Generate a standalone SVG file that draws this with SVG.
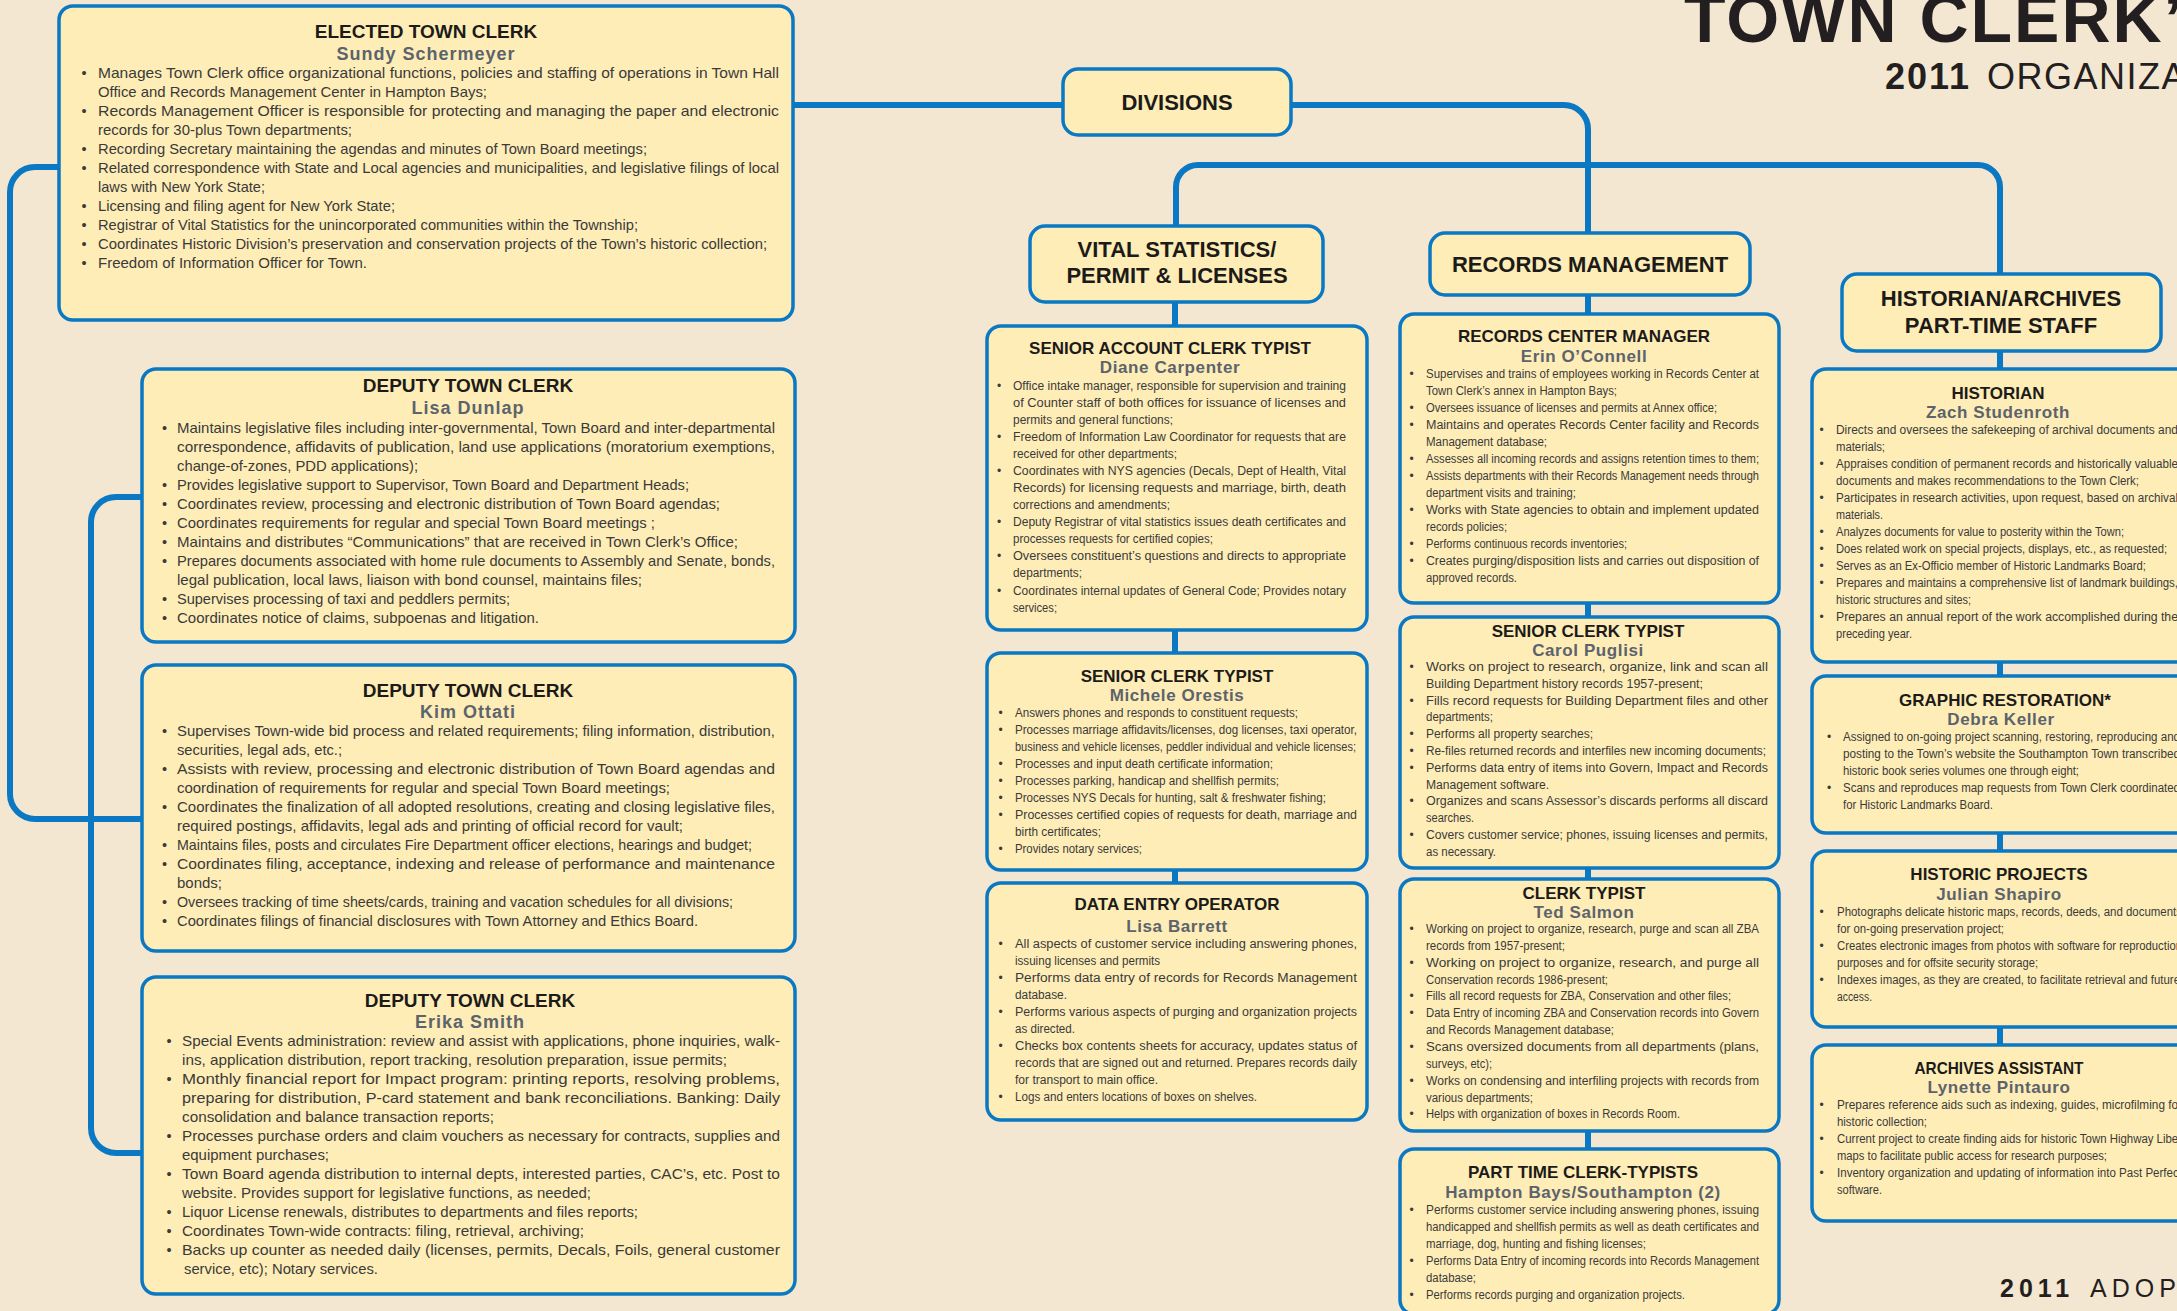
<svg xmlns="http://www.w3.org/2000/svg" width="2177" height="1311" viewBox="0 0 2177 1311">
<style>
.box{fill:#FEEDB7;stroke:#0A78C2;stroke-width:3.5}
.cn{fill:none;stroke:#0A78C2;stroke-width:6}
text{font-family:"Liberation Sans",Arial,sans-serif}
.t{font-weight:bold;fill:#1c1b19;text-anchor:middle}
.t1{font-size:19px}
.t2{font-size:17px}
.h{font-weight:bold;fill:#1c1b19;text-anchor:middle;font-size:22px}
.n{font-weight:bold;fill:#5c636c;text-anchor:middle}
.n1{font-size:18px;letter-spacing:1px}
.n2{font-size:17px;letter-spacing:0.6px}
.b{fill:#3a3a3a}
.b1{font-size:14.5px}
.b2{font-size:12px}
</style>
<rect x="0" y="0" width="2177" height="1311" fill="#F3E7D2"/>

<g id="titles">
<text x="1684" y="42" font-size="68" font-weight="bold" letter-spacing="2" fill="#231f20">TOWN CLERK’S</text>
<text y="89" font-size="36" fill="#231f20"><tspan x="1885" font-weight="bold" letter-spacing="2">2011</tspan><tspan x="1987" letter-spacing="1.5">ORGANIZATIONAL CHART</tspan></text>
<text y="1297" font-size="25" fill="#231f20" letter-spacing="5"><tspan x="2000" font-weight="bold">2011</tspan><tspan x="2090">ADOPTED</tspan></text>
</g>

<g id="connectors">
<path class="cn" d="M793 105 H1063"/>
<path class="cn" d="M1291 105 H1564 A24 24 0 0 1 1588 129 V233"/>
<path class="cn" d="M1176 226 V187 A22 22 0 0 1 1198 165 H1978 A22 22 0 0 1 2000 187 V274"/>
<path class="cn" d="M59 167 H35 A25 25 0 0 0 10 192 V794 A25 25 0 0 0 35 819 H142"/>
<path class="cn" d="M142 497 H116 A25 25 0 0 0 91 522 V1128 A25 25 0 0 0 116 1153 H142"/>
<path class="cn" d="M1175 302 V326 M1175 630 V653 M1175 870 V883"/>
<path class="cn" d="M1588 295 V314 M1588 603 V617 M1588 868 V879 M1588 1131 V1149"/>
<path class="cn" d="M2000 351 V369 M2000 662 V676 M2000 833 V851 M2000 1027 V1045"/>
</g>

<g id="n-elected">
<rect class="box" x="59" y="6" width="734" height="314" rx="14"/>
<text class="t t1" x="426" y="38">ELECTED TOWN CLERK</text>
<text class="n n1" x="426" y="60">Sundy Schermeyer</text>
<text class="b b1" x="81.5" y="78">•</text><text class="b b1" x="98" y="78" textLength="681" lengthAdjust="spacingAndGlyphs">Manages Town Clerk office organizational functions, policies and staffing of operations in Town Hall</text>
<text class="b b1" x="98" y="97" textLength="389" lengthAdjust="spacingAndGlyphs">Office and Records Management Center in Hampton Bays;</text>
<text class="b b1" x="81.5" y="116">•</text><text class="b b1" x="98" y="116" textLength="681" lengthAdjust="spacingAndGlyphs">Records Management Officer is responsible for protecting and managing the paper and electronic</text>
<text class="b b1" x="98" y="135" textLength="254" lengthAdjust="spacingAndGlyphs">records for 30-plus Town departments;</text>
<text class="b b1" x="81.5" y="154">•</text><text class="b b1" x="98" y="154" textLength="549" lengthAdjust="spacingAndGlyphs">Recording Secretary maintaining the agendas and minutes of Town Board meetings;</text>
<text class="b b1" x="81.5" y="173">•</text><text class="b b1" x="98" y="173" textLength="681" lengthAdjust="spacingAndGlyphs">Related correspondence with State and Local agencies and municipalities, and legislative filings of local</text>
<text class="b b1" x="98" y="192" textLength="167" lengthAdjust="spacingAndGlyphs">laws with New York State;</text>
<text class="b b1" x="81.5" y="211">•</text><text class="b b1" x="98" y="211" textLength="297" lengthAdjust="spacingAndGlyphs">Licensing and filing agent for New York State;</text>
<text class="b b1" x="81.5" y="230">•</text><text class="b b1" x="98" y="230" textLength="540" lengthAdjust="spacingAndGlyphs">Registrar of Vital Statistics for the unincorporated communities within the Township;</text>
<text class="b b1" x="81.5" y="249">•</text><text class="b b1" x="98" y="249" textLength="669" lengthAdjust="spacingAndGlyphs">Coordinates Historic Division’s preservation and conservation projects of the Town’s historic collection;</text>
<text class="b b1" x="81.5" y="268">•</text><text class="b b1" x="98" y="268" textLength="269" lengthAdjust="spacingAndGlyphs">Freedom of Information Officer for Town.</text>
</g>

<g id="n-deputy-dunlap">
<rect class="box" x="142" y="369" width="653" height="273" rx="14"/>
<text class="t t1" x="468" y="392">DEPUTY TOWN CLERK</text>
<text class="n n1" x="468" y="414">Lisa Dunlap</text>
<text class="b b1" x="162" y="433">•</text><text class="b b1" x="177" y="433" textLength="598" lengthAdjust="spacingAndGlyphs">Maintains legislative files including inter-governmental, Town Board and inter-departmental</text>
<text class="b b1" x="177" y="452" textLength="598" lengthAdjust="spacingAndGlyphs">correspondence, affidavits of publication, land use applications (moratorium exemptions,</text>
<text class="b b1" x="177" y="471" textLength="241" lengthAdjust="spacingAndGlyphs">change-of-zones, PDD applications);</text>
<text class="b b1" x="162" y="490">•</text><text class="b b1" x="177" y="490" textLength="512" lengthAdjust="spacingAndGlyphs">Provides legislative support to Supervisor, Town Board and Department Heads;</text>
<text class="b b1" x="162" y="509">•</text><text class="b b1" x="177" y="509" textLength="543" lengthAdjust="spacingAndGlyphs">Coordinates review, processing and electronic distribution of Town Board agendas;</text>
<text class="b b1" x="162" y="528">•</text><text class="b b1" x="177" y="528" textLength="478" lengthAdjust="spacingAndGlyphs">Coordinates requirements for regular and special Town Board meetings ;</text>
<text class="b b1" x="162" y="547">•</text><text class="b b1" x="177" y="547" textLength="561" lengthAdjust="spacingAndGlyphs">Maintains and distributes “Communications” that are received in Town Clerk’s Office;</text>
<text class="b b1" x="162" y="566">•</text><text class="b b1" x="177" y="566" textLength="598" lengthAdjust="spacingAndGlyphs">Prepares documents associated with home rule documents to Assembly and Senate, bonds,</text>
<text class="b b1" x="177" y="585" textLength="465" lengthAdjust="spacingAndGlyphs">legal publication, local laws, liaison with bond counsel, maintains files;</text>
<text class="b b1" x="162" y="604">•</text><text class="b b1" x="177" y="604" textLength="333" lengthAdjust="spacingAndGlyphs">Supervises processing of taxi and peddlers permits;</text>
<text class="b b1" x="162" y="623">•</text><text class="b b1" x="177" y="623" textLength="362" lengthAdjust="spacingAndGlyphs">Coordinates notice of claims, subpoenas and litigation.</text>
</g>

<g id="n-deputy-ottati">
<rect class="box" x="142" y="665" width="653" height="286" rx="14"/>
<text class="t t1" x="468" y="697">DEPUTY TOWN CLERK</text>
<text class="n n1" x="468" y="718">Kim Ottati</text>
<text class="b b1" x="162" y="736">•</text><text class="b b1" x="177" y="736" textLength="598" lengthAdjust="spacingAndGlyphs">Supervises Town-wide bid process and related requirements; filing information, distribution,</text>
<text class="b b1" x="177" y="755" textLength="165" lengthAdjust="spacingAndGlyphs">securities, legal ads, etc.;</text>
<text class="b b1" x="162" y="774">•</text><text class="b b1" x="177" y="774" textLength="598" lengthAdjust="spacingAndGlyphs">Assists with review, processing and electronic distribution of Town Board agendas and</text>
<text class="b b1" x="177" y="793" textLength="493" lengthAdjust="spacingAndGlyphs">coordination of requirements for regular and special Town Board meetings;</text>
<text class="b b1" x="162" y="812">•</text><text class="b b1" x="177" y="812" textLength="598" lengthAdjust="spacingAndGlyphs">Coordinates the finalization of all adopted resolutions, creating and closing legislative files,</text>
<text class="b b1" x="177" y="831" textLength="506" lengthAdjust="spacingAndGlyphs">required postings, affidavits, legal ads and printing of official record for vault;</text>
<text class="b b1" x="162" y="850">•</text><text class="b b1" x="177" y="850" textLength="575" lengthAdjust="spacingAndGlyphs">Maintains files, posts and circulates Fire Department officer elections, hearings and budget;</text>
<text class="b b1" x="162" y="869">•</text><text class="b b1" x="177" y="869" textLength="598" lengthAdjust="spacingAndGlyphs">Coordinates filing, acceptance, indexing and release of performance and maintenance</text>
<text class="b b1" x="177" y="888" textLength="45" lengthAdjust="spacingAndGlyphs">bonds;</text>
<text class="b b1" x="162" y="907">•</text><text class="b b1" x="177" y="907" textLength="556" lengthAdjust="spacingAndGlyphs">Oversees tracking of time sheets/cards, training and vacation schedules for all divisions;</text>
<text class="b b1" x="162" y="926">•</text><text class="b b1" x="177" y="926" textLength="521" lengthAdjust="spacingAndGlyphs">Coordinates filings of financial disclosures with Town Attorney and Ethics Board.</text>
</g>

<g id="n-deputy-smith">
<rect class="box" x="142" y="977" width="653" height="317" rx="14"/>
<text class="t t1" x="470" y="1007">DEPUTY TOWN CLERK</text>
<text class="n n1" x="470" y="1028">Erika Smith</text>
<text class="b b1" x="166.5" y="1046">•</text><text class="b b1" x="182" y="1046" textLength="598" lengthAdjust="spacingAndGlyphs">Special Events administration: review and assist with applications, phone inquiries, walk-</text>
<text class="b b1" x="182" y="1065" textLength="545" lengthAdjust="spacingAndGlyphs">ins, application distribution, report tracking, resolution preparation, issue permits;</text>
<text class="b b1" x="166.5" y="1084">•</text><text class="b b1" x="182" y="1084" textLength="598" lengthAdjust="spacingAndGlyphs">Monthly financial report for Impact program: printing reports, resolving problems,</text>
<text class="b b1" x="182" y="1103" textLength="598" lengthAdjust="spacingAndGlyphs">preparing for distribution, P-card statement and bank reconciliations. Banking: Daily</text>
<text class="b b1" x="182" y="1122" textLength="312" lengthAdjust="spacingAndGlyphs">consolidation and balance transaction reports;</text>
<text class="b b1" x="166.5" y="1141">•</text><text class="b b1" x="182" y="1141" textLength="598" lengthAdjust="spacingAndGlyphs">Processes purchase orders and claim vouchers as necessary for contracts, supplies and</text>
<text class="b b1" x="182" y="1160" textLength="147" lengthAdjust="spacingAndGlyphs">equipment purchases;</text>
<text class="b b1" x="166.5" y="1179">•</text><text class="b b1" x="182" y="1179" textLength="598" lengthAdjust="spacingAndGlyphs">Town Board agenda distribution to internal depts, interested parties, CAC’s, etc. Post to</text>
<text class="b b1" x="182" y="1198" textLength="409" lengthAdjust="spacingAndGlyphs">website. Provides support for legislative functions, as needed;</text>
<text class="b b1" x="166.5" y="1217">•</text><text class="b b1" x="182" y="1217" textLength="456" lengthAdjust="spacingAndGlyphs">Liquor License renewals, distributes to departments and files reports;</text>
<text class="b b1" x="166.5" y="1236">•</text><text class="b b1" x="182" y="1236" textLength="402" lengthAdjust="spacingAndGlyphs">Coordinates Town-wide contracts: filing, retrieval, archiving;</text>
<text class="b b1" x="166.5" y="1255">•</text><text class="b b1" x="182" y="1255" textLength="598" lengthAdjust="spacingAndGlyphs">Backs up counter as needed daily (licenses, permits, Decals, Foils, general customer</text>
<text class="b b1" x="184" y="1274" textLength="194" lengthAdjust="spacingAndGlyphs">service, etc); Notary services.</text>
</g>

<g id="n-divisions">
<rect class="box" x="1063" y="69" width="228" height="66" rx="15"/>
<text class="h" x="1177" y="110" font-size="23">DIVISIONS</text>
</g>

<g id="n-vital">
<rect class="box" x="1030" y="226" width="293" height="76" rx="15"/>
<text class="h" x="1177" y="257">VITAL STATISTICS/</text>
<text class="h" x="1177" y="283">PERMIT &amp; LICENSES</text>
</g>

<g id="n-records">
<rect class="box" x="1430" y="233" width="320" height="62" rx="15"/>
<text class="h" x="1590" y="272">RECORDS MANAGEMENT</text>
</g>

<g id="n-historian-archives">
<rect class="box" x="1842" y="274" width="319" height="77" rx="15"/>
<text class="h" x="2001" y="306" font-size="21.5">HISTORIAN/ARCHIVES</text>
<text class="h" x="2001" y="333" font-size="21.5">PART-TIME STAFF</text>
</g>

<g id="n-senior-account-clerk">
<rect class="box" x="987" y="326" width="380" height="304" rx="14"/>
<text class="t t2" x="1170" y="354">SENIOR ACCOUNT CLERK TYPIST</text>
<text class="n n2" x="1170" y="373">Diane Carpenter</text>
<text class="b b2" x="997" y="389.5">•</text><text class="b b2" x="1013" y="389.5" textLength="333" lengthAdjust="spacingAndGlyphs">Office intake manager, responsible for supervision and training</text>
<text class="b b2" x="1013" y="406.6" textLength="333" lengthAdjust="spacingAndGlyphs">of Counter staff of both offices for issuance of licenses and</text>
<text class="b b2" x="1013" y="423.7" textLength="160" lengthAdjust="spacingAndGlyphs">permits and general functions;</text>
<text class="b b2" x="997" y="440.7">•</text><text class="b b2" x="1013" y="440.7" textLength="333" lengthAdjust="spacingAndGlyphs">Freedom of Information Law Coordinator for requests that are</text>
<text class="b b2" x="1013" y="457.8" textLength="164" lengthAdjust="spacingAndGlyphs">received for other departments;</text>
<text class="b b2" x="997" y="474.9">•</text><text class="b b2" x="1013" y="474.9" textLength="333" lengthAdjust="spacingAndGlyphs">Coordinates with NYS agencies (Decals, Dept of Health, Vital</text>
<text class="b b2" x="1013" y="492" textLength="333" lengthAdjust="spacingAndGlyphs">Records) for licensing requests and marriage, birth, death</text>
<text class="b b2" x="1013" y="509" textLength="157" lengthAdjust="spacingAndGlyphs">corrections and amendments;</text>
<text class="b b2" x="997" y="526.1">•</text><text class="b b2" x="1013" y="526.1" textLength="333" lengthAdjust="spacingAndGlyphs">Deputy Registrar of vital statistics issues death certificates and</text>
<text class="b b2" x="1013" y="543.2" textLength="200" lengthAdjust="spacingAndGlyphs">processes requests for certified copies;</text>
<text class="b b2" x="997" y="560.3">•</text><text class="b b2" x="1013" y="560.3" textLength="333" lengthAdjust="spacingAndGlyphs">Oversees constituent’s questions and directs to appropriate</text>
<text class="b b2" x="1013" y="577.4" textLength="69" lengthAdjust="spacingAndGlyphs">departments;</text>
<text class="b b2" x="997" y="594.5">•</text><text class="b b2" x="1013" y="594.5" textLength="333" lengthAdjust="spacingAndGlyphs">Coordinates internal updates of General Code; Provides notary</text>
<text class="b b2" x="1013" y="611.5" textLength="44" lengthAdjust="spacingAndGlyphs">services;</text>
</g>

<g id="n-senior-clerk-orestis">
<rect class="box" x="987" y="653" width="380" height="217" rx="14"/>
<text class="t t2" x="1177" y="682">SENIOR CLERK TYPIST</text>
<text class="n n2" x="1177" y="701">Michele Orestis</text>
<text class="b b2" x="998.5" y="716.7">•</text><text class="b b2" x="1015" y="716.7" textLength="283" lengthAdjust="spacingAndGlyphs">Answers phones and responds to constituent requests;</text>
<text class="b b2" x="998.5" y="733.7">•</text><text class="b b2" x="1015" y="733.7" textLength="342" lengthAdjust="spacingAndGlyphs">Processes marriage affidavits/licenses, dog licenses, taxi operator,</text>
<text class="b b2" x="1015" y="750.7" textLength="341" lengthAdjust="spacingAndGlyphs">business and vehicle licenses, peddler individual and vehicle licenses;</text>
<text class="b b2" x="998.5" y="767.7">•</text><text class="b b2" x="1015" y="767.7" textLength="258" lengthAdjust="spacingAndGlyphs">Processes and input death certificate information;</text>
<text class="b b2" x="998.5" y="784.7">•</text><text class="b b2" x="1015" y="784.7" textLength="264" lengthAdjust="spacingAndGlyphs">Processes parking, handicap and shellfish permits;</text>
<text class="b b2" x="998.5" y="801.7">•</text><text class="b b2" x="1015" y="801.7" textLength="311" lengthAdjust="spacingAndGlyphs">Processes NYS Decals for hunting, salt &amp; freshwater fishing;</text>
<text class="b b2" x="998.5" y="818.7">•</text><text class="b b2" x="1015" y="818.7" textLength="342" lengthAdjust="spacingAndGlyphs">Processes certified copies of requests for death, marriage and</text>
<text class="b b2" x="1015" y="835.7" textLength="86" lengthAdjust="spacingAndGlyphs">birth certificates;</text>
<text class="b b2" x="998.5" y="852.7">•</text><text class="b b2" x="1015" y="852.7" textLength="127" lengthAdjust="spacingAndGlyphs">Provides notary services;</text>
</g>

<g id="n-data-entry">
<rect class="box" x="987" y="883" width="380" height="237" rx="14"/>
<text class="t t2" x="1177" y="910">DATA ENTRY OPERATOR</text>
<text class="n n2" x="1177" y="932">Lisa Barrett</text>
<text class="b b2" x="998.5" y="947.7">•</text><text class="b b2" x="1015" y="947.7" textLength="342" lengthAdjust="spacingAndGlyphs">All aspects of customer service including answering phones,</text>
<text class="b b2" x="1015" y="964.7" textLength="145" lengthAdjust="spacingAndGlyphs">issuing licenses and permits</text>
<text class="b b2" x="998.5" y="981.7">•</text><text class="b b2" x="1015" y="981.7" textLength="342" lengthAdjust="spacingAndGlyphs">Performs data entry of records for Records Management</text>
<text class="b b2" x="1015" y="998.7" textLength="52" lengthAdjust="spacingAndGlyphs">database.</text>
<text class="b b2" x="998.5" y="1015.7">•</text><text class="b b2" x="1015" y="1015.7" textLength="342" lengthAdjust="spacingAndGlyphs">Performs various aspects of purging and organization projects</text>
<text class="b b2" x="1015" y="1032.7" textLength="60" lengthAdjust="spacingAndGlyphs">as directed.</text>
<text class="b b2" x="998.5" y="1049.7">•</text><text class="b b2" x="1015" y="1049.7" textLength="342" lengthAdjust="spacingAndGlyphs">Checks box contents sheets for accuracy, updates status of</text>
<text class="b b2" x="1015" y="1066.7" textLength="342" lengthAdjust="spacingAndGlyphs">records that are signed out and returned. Prepares records daily</text>
<text class="b b2" x="1015" y="1083.7" textLength="143" lengthAdjust="spacingAndGlyphs">for transport to main office.</text>
<text class="b b2" x="998.5" y="1100.7">•</text><text class="b b2" x="1015" y="1100.7" textLength="242" lengthAdjust="spacingAndGlyphs">Logs and enters locations of boxes on shelves.</text>
</g>

<g id="n-records-center-manager">
<rect class="box" x="1400" y="314" width="379" height="289" rx="14"/>
<text class="t t2" x="1584" y="342">RECORDS CENTER MANAGER</text>
<text class="n n2" x="1584" y="362">Erin O’Connell</text>
<text class="b b2" x="1409.5" y="377.7">•</text><text class="b b2" x="1426" y="377.7" textLength="333" lengthAdjust="spacingAndGlyphs">Supervises and trains of employees working in Records Center at</text>
<text class="b b2" x="1426" y="394.7" textLength="191" lengthAdjust="spacingAndGlyphs">Town Clerk’s annex in Hampton Bays;</text>
<text class="b b2" x="1409.5" y="411.7">•</text><text class="b b2" x="1426" y="411.7" textLength="291" lengthAdjust="spacingAndGlyphs">Oversees issuance of licenses and permits at Annex office;</text>
<text class="b b2" x="1409.5" y="428.7">•</text><text class="b b2" x="1426" y="428.7" textLength="333" lengthAdjust="spacingAndGlyphs">Maintains and operates Records Center facility and Records</text>
<text class="b b2" x="1426" y="445.7" textLength="121" lengthAdjust="spacingAndGlyphs">Management database;</text>
<text class="b b2" x="1409.5" y="462.7">•</text><text class="b b2" x="1426" y="462.7" textLength="333" lengthAdjust="spacingAndGlyphs">Assesses all incoming records and assigns retention times to them;</text>
<text class="b b2" x="1409.5" y="479.7">•</text><text class="b b2" x="1426" y="479.7" textLength="333" lengthAdjust="spacingAndGlyphs">Assists departments with their Records Management needs through</text>
<text class="b b2" x="1426" y="496.7" textLength="150" lengthAdjust="spacingAndGlyphs">department visits and training;</text>
<text class="b b2" x="1409.5" y="513.7">•</text><text class="b b2" x="1426" y="513.7" textLength="333" lengthAdjust="spacingAndGlyphs">Works with State agencies to obtain and implement updated</text>
<text class="b b2" x="1426" y="530.7" textLength="81" lengthAdjust="spacingAndGlyphs">records policies;</text>
<text class="b b2" x="1409.5" y="547.7">•</text><text class="b b2" x="1426" y="547.7" textLength="201" lengthAdjust="spacingAndGlyphs">Performs continuous records inventories;</text>
<text class="b b2" x="1409.5" y="564.7">•</text><text class="b b2" x="1426" y="564.7" textLength="333" lengthAdjust="spacingAndGlyphs">Creates purging/disposition lists and carries out disposition of</text>
<text class="b b2" x="1426" y="581.7" textLength="91" lengthAdjust="spacingAndGlyphs">approved records.</text>
</g>

<g id="n-senior-clerk-puglisi">
<rect class="box" x="1400" y="617" width="379" height="251" rx="14"/>
<text class="t t2" x="1588" y="637">SENIOR CLERK TYPIST</text>
<text class="n n2" x="1588" y="656">Carol Puglisi</text>
<text class="b b2" x="1409.5" y="671">•</text><text class="b b2" x="1426" y="671" textLength="342" lengthAdjust="spacingAndGlyphs">Works on project to research, organize, link and scan all</text>
<text class="b b2" x="1426" y="687.8" textLength="277" lengthAdjust="spacingAndGlyphs">Building Department history records 1957-present;</text>
<text class="b b2" x="1409.5" y="704.6">•</text><text class="b b2" x="1426" y="704.6" textLength="342" lengthAdjust="spacingAndGlyphs">Fills record requests for Building Department files and other</text>
<text class="b b2" x="1426" y="721.4" textLength="67" lengthAdjust="spacingAndGlyphs">departments;</text>
<text class="b b2" x="1409.5" y="738.2">•</text><text class="b b2" x="1426" y="738.2" textLength="167" lengthAdjust="spacingAndGlyphs">Performs all property searches;</text>
<text class="b b2" x="1409.5" y="755">•</text><text class="b b2" x="1426" y="755" textLength="340" lengthAdjust="spacingAndGlyphs">Re-files returned records and interfiles new incoming documents;</text>
<text class="b b2" x="1409.5" y="771.8">•</text><text class="b b2" x="1426" y="771.8" textLength="342" lengthAdjust="spacingAndGlyphs">Performs data entry of items into Govern, Impact and Records</text>
<text class="b b2" x="1426" y="788.6" textLength="123" lengthAdjust="spacingAndGlyphs">Management software.</text>
<text class="b b2" x="1409.5" y="805.4">•</text><text class="b b2" x="1426" y="805.4" textLength="342" lengthAdjust="spacingAndGlyphs">Organizes and scans Assessor’s discards performs all discard</text>
<text class="b b2" x="1426" y="822.2" textLength="48" lengthAdjust="spacingAndGlyphs">searches.</text>
<text class="b b2" x="1409.5" y="839">•</text><text class="b b2" x="1426" y="839" textLength="342" lengthAdjust="spacingAndGlyphs">Covers customer service; phones, issuing licenses and permits,</text>
<text class="b b2" x="1426" y="855.8" textLength="70" lengthAdjust="spacingAndGlyphs">as necessary.</text>
</g>

<g id="n-clerk-typist">
<rect class="box" x="1400" y="879" width="379" height="252" rx="14"/>
<text class="t t2" x="1584" y="899">CLERK TYPIST</text>
<text class="n n2" x="1584" y="918">Ted Salmon</text>
<text class="b b2" x="1409.5" y="933">•</text><text class="b b2" x="1426" y="933" textLength="333" lengthAdjust="spacingAndGlyphs">Working on project to organize, research, purge and scan all ZBA</text>
<text class="b b2" x="1426" y="949.9" textLength="139" lengthAdjust="spacingAndGlyphs">records from 1957-present;</text>
<text class="b b2" x="1409.5" y="966.7">•</text><text class="b b2" x="1426" y="966.7" textLength="333" lengthAdjust="spacingAndGlyphs">Working on project to organize, research, and purge all</text>
<text class="b b2" x="1426" y="983.6" textLength="182" lengthAdjust="spacingAndGlyphs">Conservation records 1986-present;</text>
<text class="b b2" x="1409.5" y="1000.4">•</text><text class="b b2" x="1426" y="1000.4" textLength="305" lengthAdjust="spacingAndGlyphs">Fills all record requests for ZBA, Conservation and other files;</text>
<text class="b b2" x="1409.5" y="1017.3">•</text><text class="b b2" x="1426" y="1017.3" textLength="333" lengthAdjust="spacingAndGlyphs">Data Entry of incoming ZBA and Conservation records into Govern</text>
<text class="b b2" x="1426" y="1034.1" textLength="188" lengthAdjust="spacingAndGlyphs">and Records Management database;</text>
<text class="b b2" x="1409.5" y="1051">•</text><text class="b b2" x="1426" y="1051" textLength="333" lengthAdjust="spacingAndGlyphs">Scans oversized documents from all departments (plans,</text>
<text class="b b2" x="1426" y="1067.8" textLength="66" lengthAdjust="spacingAndGlyphs">surveys, etc);</text>
<text class="b b2" x="1409.5" y="1084.7">•</text><text class="b b2" x="1426" y="1084.7" textLength="333" lengthAdjust="spacingAndGlyphs">Works on condensing and interfiling projects with records from</text>
<text class="b b2" x="1426" y="1101.5" textLength="107" lengthAdjust="spacingAndGlyphs">various departments;</text>
<text class="b b2" x="1409.5" y="1118.4">•</text><text class="b b2" x="1426" y="1118.4" textLength="254" lengthAdjust="spacingAndGlyphs">Helps with organization of boxes in Records Room.</text>
</g>

<g id="n-part-time">
<rect class="box" x="1400" y="1149" width="379" height="165" rx="14"/>
<text class="t t2" x="1583" y="1178">PART TIME CLERK-TYPISTS</text>
<text class="n n2" x="1583" y="1198" letter-spacing="1.4">Hampton Bays/Southampton (2)</text>
<text class="b b2" x="1409.5" y="1214">•</text><text class="b b2" x="1426" y="1214" textLength="333" lengthAdjust="spacingAndGlyphs">Performs customer service including answering phones, issuing</text>
<text class="b b2" x="1426" y="1230.9" textLength="333" lengthAdjust="spacingAndGlyphs">handicapped and shellfish permits as well as death certificates and</text>
<text class="b b2" x="1426" y="1247.8" textLength="220" lengthAdjust="spacingAndGlyphs">marriage, dog, hunting and fishing licenses;</text>
<text class="b b2" x="1409.5" y="1264.7">•</text><text class="b b2" x="1426" y="1264.7" textLength="333" lengthAdjust="spacingAndGlyphs">Performs Data Entry of incoming records into Records Management</text>
<text class="b b2" x="1426" y="1281.6" textLength="50" lengthAdjust="spacingAndGlyphs">database;</text>
<text class="b b2" x="1409.5" y="1298.5">•</text><text class="b b2" x="1426" y="1298.5" textLength="259" lengthAdjust="spacingAndGlyphs">Performs records purging and organization projects.</text>
</g>

<g id="n-historian">
<rect class="box" x="1812" y="369" width="380" height="293" rx="14"/>
<text class="t t2" x="1998" y="399">HISTORIAN</text>
<text class="n n2" x="1998" y="418">Zach Studenroth</text>
<text class="b b2" x="1819.5" y="434">•</text><text class="b b2" x="1836" y="434" textLength="342" lengthAdjust="spacingAndGlyphs">Directs and oversees the safekeeping of archival documents and</text>
<text class="b b2" x="1836" y="451" textLength="49" lengthAdjust="spacingAndGlyphs">materials;</text>
<text class="b b2" x="1819.5" y="468">•</text><text class="b b2" x="1836" y="468" textLength="342" lengthAdjust="spacingAndGlyphs">Appraises condition of permanent records and historically valuable</text>
<text class="b b2" x="1836" y="485" textLength="303" lengthAdjust="spacingAndGlyphs">documents and makes recommendations to the Town Clerk;</text>
<text class="b b2" x="1819.5" y="502">•</text><text class="b b2" x="1836" y="502" textLength="342" lengthAdjust="spacingAndGlyphs">Participates in research activities, upon request, based on archival</text>
<text class="b b2" x="1836" y="519" textLength="47" lengthAdjust="spacingAndGlyphs">materials.</text>
<text class="b b2" x="1819.5" y="536">•</text><text class="b b2" x="1836" y="536" textLength="288" lengthAdjust="spacingAndGlyphs">Analyzes documents for value to posterity within the Town;</text>
<text class="b b2" x="1819.5" y="553">•</text><text class="b b2" x="1836" y="553" textLength="331" lengthAdjust="spacingAndGlyphs">Does related work on special projects, displays, etc., as requested;</text>
<text class="b b2" x="1819.5" y="570">•</text><text class="b b2" x="1836" y="570" textLength="310" lengthAdjust="spacingAndGlyphs">Serves as an Ex-Officio member of Historic Landmarks Board;</text>
<text class="b b2" x="1819.5" y="587">•</text><text class="b b2" x="1836" y="587" textLength="342" lengthAdjust="spacingAndGlyphs">Prepares and maintains a comprehensive list of landmark buildings,</text>
<text class="b b2" x="1836" y="604" textLength="135" lengthAdjust="spacingAndGlyphs">historic structures and sites;</text>
<text class="b b2" x="1819.5" y="621">•</text><text class="b b2" x="1836" y="621" textLength="342" lengthAdjust="spacingAndGlyphs">Prepares an annual report of the work accomplished during the</text>
<text class="b b2" x="1836" y="638" textLength="76" lengthAdjust="spacingAndGlyphs">preceding year.</text>
</g>

<g id="n-graphic-restoration">
<rect class="box" x="1812" y="676" width="380" height="157" rx="14"/>
<text class="t t2" x="2005" y="706">GRAPHIC RESTORATION*</text>
<text class="n n2" x="2001" y="725">Debra Keller</text>
<text class="b b2" x="1827" y="741">•</text><text class="b b2" x="1843" y="741" textLength="337" lengthAdjust="spacingAndGlyphs">Assigned to on-going project scanning, restoring, reproducing and</text>
<text class="b b2" x="1843" y="757.9" textLength="337" lengthAdjust="spacingAndGlyphs">posting to the Town’s website the Southampton Town transcribed</text>
<text class="b b2" x="1843" y="774.8" textLength="236" lengthAdjust="spacingAndGlyphs">historic book series volumes one through eight;</text>
<text class="b b2" x="1827" y="791.7">•</text><text class="b b2" x="1843" y="791.7" textLength="337" lengthAdjust="spacingAndGlyphs">Scans and reproduces map requests from Town Clerk coordinated</text>
<text class="b b2" x="1843" y="808.6" textLength="150" lengthAdjust="spacingAndGlyphs">for Historic Landmarks Board.</text>
</g>

<g id="n-historic-projects">
<rect class="box" x="1812" y="851" width="380" height="176" rx="14"/>
<text class="t t2" x="1999" y="880">HISTORIC PROJECTS</text>
<text class="n n2" x="1999" y="900">Julian Shapiro</text>
<text class="b b2" x="1819.5" y="915.7">•</text><text class="b b2" x="1837" y="915.7" textLength="345" lengthAdjust="spacingAndGlyphs">Photographs delicate historic maps, records, deeds, and documents</text>
<text class="b b2" x="1837" y="932.7" textLength="167" lengthAdjust="spacingAndGlyphs">for on-going preservation project;</text>
<text class="b b2" x="1819.5" y="949.7">•</text><text class="b b2" x="1837" y="949.7" textLength="345" lengthAdjust="spacingAndGlyphs">Creates electronic images from photos with software for reproduction</text>
<text class="b b2" x="1837" y="966.7" textLength="201" lengthAdjust="spacingAndGlyphs">purposes and for offsite security storage;</text>
<text class="b b2" x="1819.5" y="983.7">•</text><text class="b b2" x="1837" y="983.7" textLength="343" lengthAdjust="spacingAndGlyphs">Indexes images, as they are created, to facilitate retrieval and future</text>
<text class="b b2" x="1837" y="1000.7" textLength="35" lengthAdjust="spacingAndGlyphs">access.</text>
</g>

<g id="n-archives-assistant">
<rect class="box" x="1812" y="1045" width="380" height="176" rx="14"/>
<text class="t t2" x="1999" y="1074" textLength="169" lengthAdjust="spacingAndGlyphs">ARCHIVES ASSISTANT</text>
<text class="n n2" x="1999" y="1093">Lynette Pintauro</text>
<text class="b b2" x="1819.5" y="1109">•</text><text class="b b2" x="1837" y="1109" textLength="345" lengthAdjust="spacingAndGlyphs">Prepares reference aids such as indexing, guides, microfilming for</text>
<text class="b b2" x="1837" y="1126" textLength="90" lengthAdjust="spacingAndGlyphs">historic collection;</text>
<text class="b b2" x="1819.5" y="1143">•</text><text class="b b2" x="1837" y="1143" textLength="345" lengthAdjust="spacingAndGlyphs">Current project to create finding aids for historic Town Highway Liber</text>
<text class="b b2" x="1837" y="1160" textLength="270" lengthAdjust="spacingAndGlyphs">maps to facilitate public access for research purposes;</text>
<text class="b b2" x="1819.5" y="1177">•</text><text class="b b2" x="1837" y="1177" textLength="345" lengthAdjust="spacingAndGlyphs">Inventory organization and updating of information into Past Perfect</text>
<text class="b b2" x="1837" y="1194" textLength="45" lengthAdjust="spacingAndGlyphs">software.</text>
</g>
</svg>
